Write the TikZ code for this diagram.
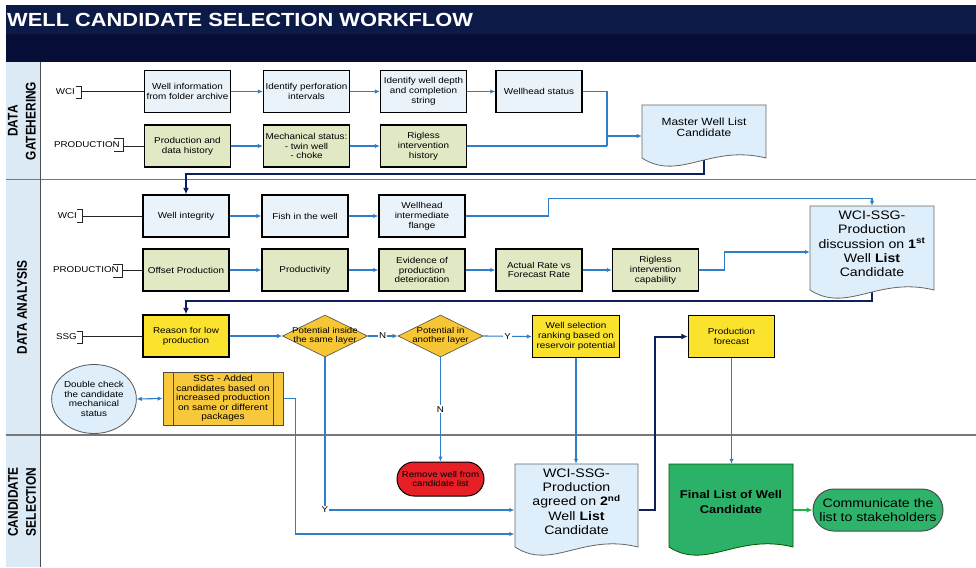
\documentclass[tikz,border=0pt]{standalone}
\usepackage{fontspec}
\setmainfont{Liberation Sans}[FakeStretch=1.15]
\newfontfamily\lanefont{Liberation Sans}[FakeStretch=0.85]
\usetikzlibrary{arrows.meta,shapes.geometric}
\pgfdeclarelayer{bg}\pgfdeclarelayer{conn}\pgfdeclarelayer{docs}
\pgfsetlayers{bg,conn,docs,main}
\definecolor{navyA}{RGB}{12,26,72}
\definecolor{navyB}{RGB}{6,14,56}
\definecolor{laneblue}{RGB}{220,234,246}
\definecolor{boxblue}{RGB}{234,243,250}
\definecolor{boxolive}{RGB}{225,232,196}
\definecolor{boxyellow}{RGB}{251,226,45}
\definecolor{diagold}{RGB}{246,198,52}
\definecolor{ssggold}{RGB}{248,200,60}
\definecolor{docblue}{RGB}{222,238,250}
\definecolor{lineblue}{RGB}{46,126,200}
\definecolor{navyline}{RGB}{14,32,92}
\definecolor{remred}{RGB}{230,32,38}
\definecolor{docgreen}{RGB}{44,178,104}
\definecolor{commgreen}{RGB}{46,180,106}
\definecolor{arrgreen}{RGB}{34,178,76}
\definecolor{lanegray}{RGB}{120,120,120}
\newcommand{\docshape}[5]{%
  \begin{pgfonlayer}{docs}%
  \pgfmathsetmacro\dsa{#1+0.3*(#3-#1)}%
  \pgfmathsetmacro\dsb{#1+0.55*(#3-#1)}%
  \draw[#5] (#1,#2) -- (#3,#2) -- (#3,#4) .. controls (\dsb,#4-14) and (\dsa,#4+24) .. (#1,#4) -- cycle;%
  \end{pgfonlayer}}
\begin{document}
\begin{tikzpicture}[x=1pt,y=-1pt,
  box/.style={draw=black, line width=1.4pt, minimum width=86pt, minimum height=42pt, inner sep=1pt, align=center, font=\fontsize{8.6}{9.8}\selectfont},
  wbox/.style={box, fill=boxblue},
  pbox/.style={box, fill=boxolive},
  ybox/.style={box, fill=boxyellow},
  dia/.style={diamond, draw=black!70, line width=0.6pt, fill=diagold, minimum width=85pt, minimum height=42pt, inner sep=0pt},
  diatxt/.style={font=\fontsize{8.4}{9.6}\selectfont, align=center, inner sep=0pt},
  doctxt/.style={align=center, inner sep=0pt, minimum width=124pt},
  bigtxt/.style={font=\fontsize{12.3}{14.3}\selectfont},
  rowlab/.style={anchor=east, inner sep=0pt, font=\fontsize{8.5}{9}\selectfont},
  rowline/.style={draw=black!85, line width=0.8pt},
  lanelab/.style={align=center, font=\lanefont\bfseries\fontsize{14}{18}\selectfont, inner sep=0pt},
  bl/.style={draw=lineblue, line width=1.1pt},
  barr/.style={bl, -{Latex[length=5pt,width=4.5pt]}},
  nv/.style={draw=navyline, line width=2pt},
  narr/.style={nv, -{Latex[length=6.5pt,width=6pt]}},
  garr/.style={draw=arrgreen, line width=1.2pt, -{Latex[length=6pt,width=5.5pt]}},
  lbl/.style={fill=white, inner sep=1pt, font=\fontsize{8.5}{9}\selectfont}
]
\useasboundingbox (0,0) rectangle (976,567);
% ---------- background / lanes
\begin{pgfonlayer}{bg}
\fill[white] (0,0) rectangle (976,567);
\fill[navyA] (6,5) rectangle (976,34);
\fill[navyB] (6,34) rectangle (976,62);
\fill[laneblue] (6,62) rectangle (40,567);
\draw[lanegray, line width=1.2pt] (6,179.5) -- (976,179.5);
\draw[lanegray, line width=1.2pt] (6,435) -- (976,435);
\draw[black!70, line width=1pt] (40,62) -- (40,567);
\end{pgfonlayer}
\node[anchor=west, text=white, font=\bfseries\fontsize{19}{19}\selectfont, inner sep=0pt] (title) at (7,19.5) {WELL CANDIDATE SELECTION WORKFLOW};
\node[rotate=90, lanelab] (laneG) at (22,121) {DATA\\GATEHERING};
\node[rotate=90, lanelab] (laneA) at (22,307.5) {DATA ANALYSIS};
\node[rotate=90, lanelab] (laneC) at (22,502) {CANDIDATE\\SELECTION};

% ---------- row labels with brackets
\node[rowlab] (lw1) at (75,92) {WCI};
\draw[rowline] (76,86.5) -- (81,86.5) -- (81,98) -- (76,98);
\coordinate (bw1) at (81,91.5);
\node[rowlab] (lp1) at (120,145) {PRODUCTION};
\draw[rowline] (114,138.5) -- (123,138.5) -- (123,151.5) -- (114,151.5);
\coordinate (bp1) at (123,146);
\node[rowlab] (lw2) at (77,216) {WCI};
\draw[rowline] (77,209.5) -- (82,209.5) -- (82,222.5) -- (77,222.5);
\coordinate (bw2) at (82,216);
\node[rowlab] (lp2) at (119,270) {PRODUCTION};
\draw[rowline] (113,264) -- (122,264) -- (122,277) -- (113,277);
\coordinate (bp2) at (122,270);
\node[rowlab] (ls) at (77,337) {SSG};
\draw[rowline] (77,331) -- (82,331) -- (82,343) -- (77,343);
\coordinate (bs) at (82,336);

% ---------- data gathering boxes
\node[wbox] (A1) at (187.5,91.5) {Well information\\from folder archive};
\node[wbox] (A2) at (306.5,91.5) {Identify perforation\\intervals};
\node[wbox] (A3) at (423.5,91.5) {Identify well depth\\and completion\\string};
\node[wbox] (A4) at (539,91.5) {Wellhead status};
\node[pbox] (B1) at (187.5,146) {Production and\\data history};
\node[pbox] (B2) at (306.5,146) {Mechanical status:\\- twin well\\- choke};
\node[pbox] (B3) at (423.5,146) {Rigless\\intervention\\history};

% ---------- data analysis boxes
\node[wbox] (C1) at (186,216) {Well integrity};
\node[wbox] (C2) at (305,216) {Fish in the well};
\node[wbox] (C3) at (422,216) {Wellhead\\intermediate\\flange};
\node[pbox] (D1) at (186,270) {Offset Production};
\node[pbox] (D2) at (305,270) {Productivity};
\node[pbox] (D3) at (422,270) {Evidence of\\production\\deterioration};
\node[pbox] (D4) at (539,270) {Actual Rate vs\\Forecast Rate};
\node[pbox] (D5) at (655.5,270) {Rigless\\intervention\\capability};
\node[ybox] (E1) at (186,336) {Reason for low\\production};
\node[dia] (F1) at (325,336) {};
\node[diatxt] (F1t) at (F1) {Potential inside\\the same layer};
\node[dia] (F2) at (440.5,336) {};
\node[diatxt] (F2t) at (F2) {Potential in\\another layer};
\node[ybox, minimum width=87pt] (G) at (576,336.5) {Well selection\\ranking based on\\reservoir potential};
\node[ybox] (H) at (731.5,336.5) {Production\\forecast};
\node[ellipse, draw=black!65, line width=0.8pt, fill=docblue, minimum width=82pt, minimum height=69pt, inner sep=0pt, align=center, font=\fontsize{8.6}{9.6}\selectfont] (DC) at (94,399) {Double check\\the candidate\\mechanical\\status};
\node[draw=black!70, line width=0.8pt, fill=ssggold, minimum width=120pt, minimum height=53pt, inner sep=0pt, align=center, font=\fontsize{8.8}{9.6}\selectfont] (SSG) at (223,398.5) {SSG - Added\\candidates based on\\increased production\\on same or different\\packages};
\draw[black!70, line width=0.8pt] ([xshift=10.5pt]SSG.north west) -- ([xshift=10.5pt]SSG.south west);
\draw[black!70, line width=0.8pt] ([xshift=-10.5pt]SSG.north east) -- ([xshift=-10.5pt]SSG.south east);

% ---------- candidate selection
\node[draw=black, line width=1pt, fill=remred, rounded corners=17pt, minimum width=87pt, minimum height=34pt, inner sep=0pt, align=center, font=\fontsize{8.4}{9.6}\selectfont] (Rem) at (440.5,479) {Remove well from\\candidate list};
\node[draw=black!70, line width=1pt, fill=commgreen, rounded corners=21pt, minimum width=130pt, minimum height=42pt, inner sep=0pt, align=center, font=\fontsize{12.3}{14}\selectfont] (Comm) at (878,510) {Communicate the\\list to stakeholders};

% ---------- documents
\docshape{642}{105}{766}{158}{fill=docblue, draw=black!60, line width=0.8pt}
\node[doctxt, minimum height=45pt, font=\fontsize{10.4}{11.5}\selectfont] (Master) at (704,127.5) {Master Well List\\Candidate};
\docshape{810}{206}{934}{290}{fill=docblue, draw=black!60, line width=0.8pt}
\node[doctxt, bigtxt, minimum height=76pt] (Doc1) at (872,244) {WCI-SSG-\\Production\\discussion on \textbf{1\textsuperscript{st}}\\Well \textbf{List}\\Candidate};
\docshape{515}{464}{638}{547}{fill=docblue, draw=black!60, line width=0.8pt}
\node[doctxt, bigtxt, minimum height=75pt] (Doc2) at (576.5,501.5) {WCI-SSG-\\Production\\agreed on \textbf{2\textsuperscript{nd}}\\Well \textbf{List}\\Candidate};
\docshape{669}{464}{793}{547}{fill=docgreen, draw=green!35!black, line width=0.8pt}
\node[doctxt, minimum height=75pt, font=\bfseries\fontsize{11.2}{15}\selectfont] (Final) at (731,501.5) {Final List of Well\\Candidate};

% ---------- connectors
\begin{pgfonlayer}{conn}
\draw[rowline] (bw1) -- (A1.west);
\draw[rowline] (bp1) -- (B1.west);
\draw[rowline] (bw2) -- (C1.west);
\draw[rowline] (bp2) -- (D1.west);
\draw[rowline] (bs) -- (E1.west);
\draw[barr] (A1) -- (A2);
\draw[barr] (A2) -- (A3);
\draw[barr] (A3) -- (A4);
\draw[barr] (B1) -- (B2);
\draw[barr] (B2) -- (B3);
\coordinate (J1) at (607,136);
\draw[bl] (A4.east) -| (607,146);
\draw[bl] (B3.east) -- (607,146);
\draw[barr] (J1) -- (J1 -| Master.west);
\draw[narr] (Master.south) |- ([yshift=20pt]C1.north) -- (C1.north);
\draw[barr] (C1) -- (C2);
\draw[barr] (C2) -- (C3);
\draw[barr] (C3.east) -- ++(83,0) |- ([yshift=7pt]Doc1.north) -- (Doc1.north);
\draw[barr] (D1) -- (D2);
\draw[barr] (D2) -- (D3);
\draw[barr] (D3) -- (D4);
\draw[barr] (D4) -- (D5);
\draw[barr] (D5.east) -- ++(25,0) |- ([yshift=-8pt]Doc1.west);
\draw[narr] (Doc1.south) |- ([yshift=13pt]E1.north) -- (E1.north);
\draw[barr] (E1.east) -- (F1.west);
\draw[barr] (F1.east) -- node[lbl] {N} (F2.west);
\draw[barr] (F2.east) -- node[lbl] {Y} (G.west);
\draw[barr] (F2.south) -- node[lbl] {N} (Rem.north);
\draw[barr] (F1.south) |- node[lbl] {Y} ([yshift=-8.5pt]Doc2.west);
\draw[barr] (SSG.east) -- ++(12,0) |- ([yshift=-32.5pt]Doc2.west);
\draw[bl, {Latex[length=5pt,width=4.5pt]}-{Latex[length=5pt,width=4.5pt]}] (DC.east) -- (SSG.west);
\draw[barr] (G.south) -- (G.south |- Doc2.north);
\draw[barr] (H.south) -- (H.south |- Final.north);
\draw[narr] ([yshift=-8.5pt]Doc2.east) -- ++(16,0) |- (H.west);
\draw[garr] (Final.east |- Comm.west) -- (Comm.west);
\end{pgfonlayer}
\end{tikzpicture}
\end{document}
